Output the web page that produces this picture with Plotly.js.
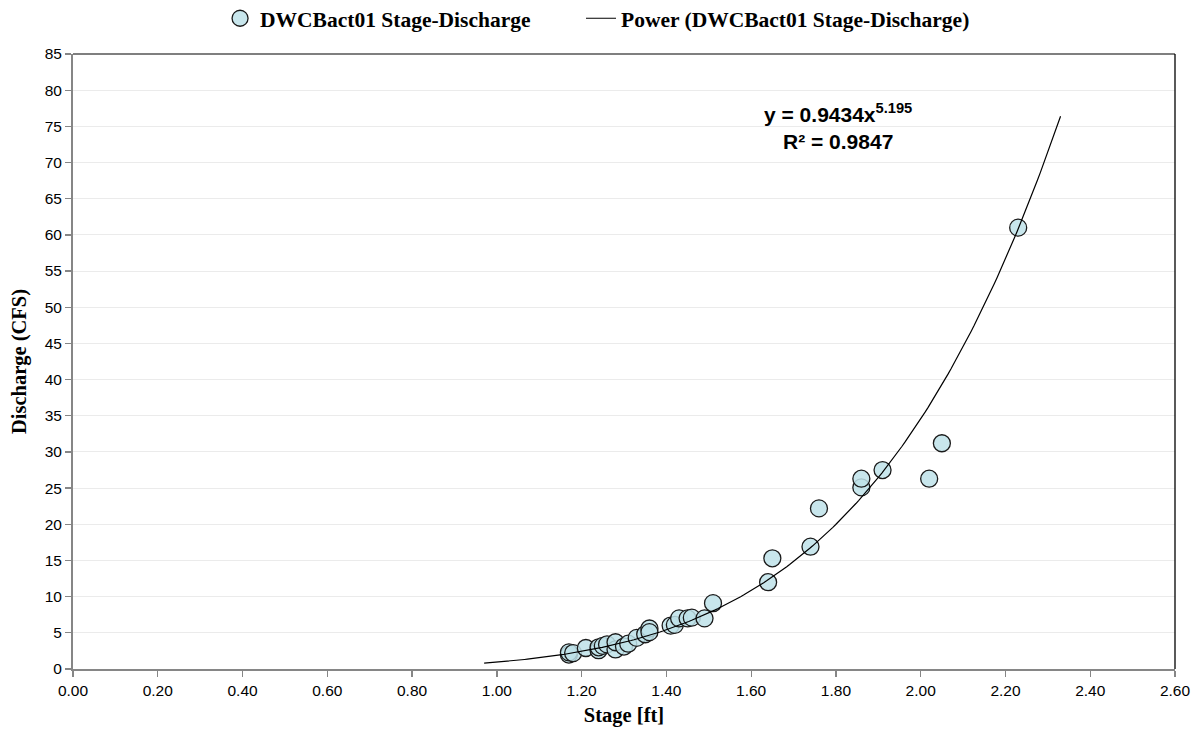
<!DOCTYPE html>
<html>
<head>
<meta charset="utf-8">
<script src="https://cdn.plot.ly/plotly-3.0.1.min.js"></script>
<style>html,body{margin:0;padding:0;background:#fff;}#chart{width:1194px;height:731px;}</style>
</head>
<body>
<div id="chart"></div>
<script>
// Observed stage (ft) and discharge (CFS)
var stage = [1.17,1.17,1.18,1.21,1.24,1.24,1.25,1.26,1.28,1.28,1.30,1.31,1.33,1.35,1.36,1.36,1.41,1.42,1.43,1.45,1.46,1.49,1.51,1.64,1.65,1.74,1.76,1.86,1.86,1.91,2.02,2.05,2.23];
var discharge = [2.0,2.3,2.2,2.9,2.6,3.0,3.2,3.4,2.7,3.7,3.1,3.5,4.3,4.8,5.6,5.1,6.0,6.1,7.0,7.0,7.1,7.0,9.1,12.0,15.3,16.9,22.2,25.1,26.3,27.5,26.3,31.2,61.0];
// Power trendline coefficients shown on the chart
var fitCoef = 0.9434;
var fitExp = 5.195;
var fitR2 = 0.9847;
var fitStart = 0.97;
var fitEnd = 2.33;
var xTickVals = [0,0.2,0.4,0.6,0.8,1.0,1.2,1.4,1.6,1.8,2.0,2.2,2.4,2.6];
var yTickVals = [0,5,10,15,20,25,30,35,40,45,50,55,60,65,70,75,80,85];

var fitX = [], fitY = [];
var n = 200;
for (var i = 0; i <= n; i++) {
  var x = fitStart + (fitEnd - fitStart) * i / n;
  fitX.push(x);
  fitY.push(fitCoef * Math.pow(x, fitExp));
}

var traces = [
  {
    x: stage, y: discharge, type: 'scatter', mode: 'markers',
    name: 'DWCBact01 Stage-Discharge', legend: 'legend',
    marker: {size: 17, color: 'rgba(190,226,233,0.85)', line: {color: '#1a1a1a', width: 1.3}}
  },
  {
    x: fitX, y: fitY, type: 'scatter', mode: 'lines',
    name: 'Power (DWCBact01 Stage-Discharge)', legend: 'legend2',
    line: {color: '#000', width: 1.2}
  }
];

var tickFont = {family: 'Liberation Sans, Arial, sans-serif', size: 15.5, color: '#000'};
var titleFont = {family: 'Liberation Serif, Times New Roman, serif', size: 20.5, color: '#000', weight: 'bold'};
var legendFont = {family: 'Liberation Serif, Times New Roman, serif', size: 21.5, color: '#000', weight: 'bold'};

var layout = {
  width: 1194, height: 731,
  margin: {l: 73, r: 19, t: 54, b: 62},
  paper_bgcolor: '#fff', plot_bgcolor: '#fff',
  showlegend: true,
  legend: {
    orientation: 'h', xref: 'container', yref: 'container',
    x: 0.1843, xanchor: 'left', y: 0.975, yanchor: 'middle',
    font: legendFont, itemwidth: 30
  },
  legend2: {
    orientation: 'h', xref: 'container', yref: 'container',
    x: 0.4866, xanchor: 'left', y: 0.975, yanchor: 'middle',
    font: legendFont, itemwidth: 30
  },
  xaxis: {
    range: [0, 2.6], tickvals: xTickVals, tickformat: '.2f',
    showgrid: false, zeroline: false,
    showline: true, linecolor: '#868686', linewidth: 2,
    ticks: 'outside', ticklen: 6, tickcolor: '#868686', tickwidth: 1.3,
    tickfont: tickFont,
    title: {text: 'Stage [ft]', font: titleFont, standoff: 10}
  },
  yaxis: {
    range: [0, 85], tickvals: yTickVals,
    showgrid: true, gridcolor: '#ebebeb', gridwidth: 1, zeroline: false,
    showline: true, linecolor: '#868686', linewidth: 2,
    ticks: 'outside', ticklen: 6, tickcolor: '#868686', tickwidth: 1.3,
    tickfont: tickFont,
    title: {text: 'Discharge (CFS)', font: titleFont, standoff: 12}
  },
  shapes: [
    {type: 'line', xref: 'paper', yref: 'paper', x0: 0, x1: 1, y0: 1, y1: 1, line: {color: '#555', width: 1.5}},
    {type: 'line', xref: 'paper', yref: 'paper', x0: 1, x1: 1, y0: 0, y1: 1, line: {color: '#000', width: 1.3}}
  ],
  annotations: [{
    x: 1.804, y: 75, xref: 'x', yref: 'y', yanchor: 'middle',
    text: 'y = ' + fitCoef + 'x<sup>' + fitExp + '</sup><br>R² = ' + fitR2,
    showarrow: false, align: 'center',
    font: {family: 'Liberation Sans, Arial, sans-serif', size: 21, color: '#000', weight: 'bold'}
  }]
};

Plotly.newPlot('chart', traces, layout, {displayModeBar: false, staticPlot: true});
</script>
</body>
</html>
